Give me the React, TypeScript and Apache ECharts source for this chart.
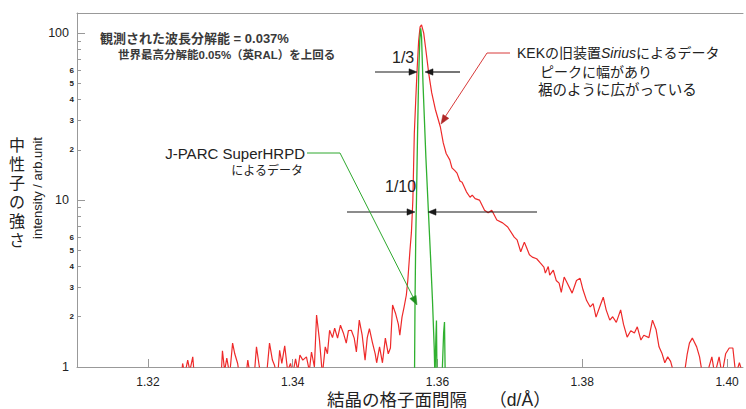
import React, { useEffect, useRef } from "react";
import * as echarts from "echarts";

// ---- data ----
const X_TICKS = [1.32, 1.34, 1.36, 1.38, 1.4];
const Y_MAJOR = [1, 10, 100];
const Y_MINOR_LABELLED = [2, 3, 4, 5, 6, 20, 30, 40, 50, 60];
const Y_MINOR_TICKS = [2, 3, 4, 5, 6, 7, 8, 9, 20, 30, 40, 50, 60, 70, 80, 90];

// KEK Sirius (red)
const SIRIUS_D = [
  1.3102, 1.3244, 1.3248, 1.3251, 1.3255, 1.3258, 1.3262, 1.3266, 1.33, 1.3303,
  1.3306, 1.3309, 1.3313, 1.3317, 1.332, 1.3324, 1.3328, 1.3335, 1.3338, 1.3342,
  1.3347, 1.335, 1.3354, 1.3358, 1.3364, 1.3368, 1.3372, 1.3375, 1.3379, 1.3382,
  1.3385, 1.3389, 1.3393, 1.3397, 1.34, 1.3404, 1.3407, 1.341, 1.3414, 1.3419,
  1.3423, 1.3426, 1.343, 1.3433, 1.3437, 1.3441, 1.3445, 1.3448, 1.3451, 1.3455,
  1.3458, 1.3462, 1.3466, 1.347, 1.3474, 1.3477, 1.3481, 1.3485, 1.3488, 1.3492,
  1.3496, 1.35, 1.3503, 1.3506, 1.351, 1.3514, 1.3516, 1.352, 1.3524, 1.3528,
  1.3532, 1.3535, 1.3538, 1.3542, 1.3546, 1.3548, 1.3551, 1.3554, 1.3557, 1.3559,
  1.3562, 1.3564, 1.3566, 1.3567, 1.3568, 1.357, 1.3572, 1.3574, 1.3576, 1.3578,
  1.3581, 1.3584, 1.3588, 1.3592, 1.3597, 1.3604, 1.3608, 1.3612, 1.3617, 1.362,
  1.3624, 1.3627, 1.3631, 1.3634, 1.364, 1.3645, 1.3648, 1.3652, 1.3658, 1.3665,
  1.367, 1.3675, 1.3682, 1.369, 1.3697, 1.3706, 1.371, 1.3715, 1.372, 1.3723,
  1.3727, 1.3731, 1.3737, 1.3742, 1.3747, 1.3749, 1.3753, 1.3755, 1.376, 1.3764,
  1.3768, 1.3771, 1.3775, 1.3779, 1.3786, 1.3792, 1.3797, 1.3801, 1.3806, 1.3811,
  1.3815, 1.3819, 1.3825, 1.3829, 1.3833, 1.3838, 1.3842, 1.3847, 1.3853, 1.3857,
  1.3862, 1.3867, 1.3872, 1.3876, 1.3881, 1.3885, 1.3892, 1.3897, 1.3902, 1.3906,
  1.391, 1.3914, 1.3918, 1.3922, 1.3927, 1.3932, 1.394, 1.3945, 1.3948, 1.3952,
  1.3958, 1.3962, 1.3966, 1.3972, 1.3979, 1.3983, 1.3989, 1.3993, 1.3998, 1.4003,
  1.4008, 1.4012, 1.4017, 1.4022,
];
const SIRIUS_I = [
  0.7, 0.7, 1.05, 0.9, 1.1, 0.95, 1.15, 0.7, 0.7, 1.25,
  0.95, 1.13, 0.9, 1.39, 1.2, 1.05, 0.8, 0.85, 1.1, 0.85,
  0.9, 1.32, 1.0, 0.85, 0.9, 1.39, 1.1, 1.02, 0.85, 1.26,
  1.05, 1.34, 0.95, 1.05, 0.9, 1.12, 0.95, 1.18, 1.1, 1.15,
  0.95, 1.23, 1.0, 2.05, 1.45, 0.9, 1.32, 1.2, 1.66, 1.5,
  1.71, 1.49, 1.78, 1.6, 1.39, 1.65, 1.66, 1.49, 1.23, 1.91,
  1.55, 1.1, 1.5, 1.7, 1.41, 1.2, 1.06, 1.32, 1.06, 1.49,
  1.2, 1.3, 2.35, 2.1, 1.8, 1.55, 1.99, 2.3, 2.7, 3.3,
  5.0, 6.4, 10, 15.8, 25, 40, 62, 90, 109, 112,
  100, 79, 57, 44, 35, 27.4, 22, 19, 17.4, 15.6,
  15.0, 14.5, 13.0, 12.8, 11.2, 10.4, 10.7, 10.2, 10.0, 8.7,
  8.4, 8.7, 7.6, 7.3, 6.9, 6.0, 5.77, 4.9, 5.6, 5.2,
  4.7, 4.55, 4.45, 4.2, 3.97, 3.65, 4.0, 3.55, 3.8, 3.3,
  3.18, 2.8, 3.46, 3.2, 2.77, 3.3, 3.4, 2.9, 2.5, 2.29,
  2.4, 1.99, 2.35, 2.62, 2.2, 1.91, 2.0, 1.85, 2.2, 1.8,
  1.51, 1.65, 1.6, 1.74, 1.45, 1.55, 1.5, 1.91, 1.67, 1.32,
  1.21, 1.06, 1.15, 1.08, 0.9, 0.95, 0.85, 1.2, 1.39, 1.49,
  1.32, 1.15, 0.9, 0.9, 1.15, 0.9, 1.15, 0.9, 1.2, 1.3,
  1.3, 0.9, 1.06, 0.9,
];

// J-PARC SuperHRPD (green)
const SHRPD_D = [
  1.354, 1.3567, 1.35683, 1.3569, 1.357, 1.3571, 1.35725, 1.3574, 1.35755, 1.35768,
  1.3578, 1.358, 1.3584, 1.35876, 1.35905, 1.35931, 1.35955, 1.35965, 1.35978, 1.35986,
  1.35994, 1.3601, 1.3606, 1.36085, 1.36097, 1.36108, 1.364,
];
const SHRPD_I = [
  0.5, 0.6, 0.9, 2.5, 6, 10, 25, 55, 90, 107,
  95, 50, 18, 8.3, 4.5, 2.5, 1.3, 0.85, 1.5, 1.9,
  0.8, 0.75, 0.8, 1.6, 1.86, 0.8, 0.5,
];

const X_MIN = 1.31021;
const X_MAX = 1.4022;
const Y_MIN = 1;
const Y_MAX = 132;

const FONT = "'Liberation Sans', 'Noto Sans CJK JP', sans-serif";

function arrowHead(tip: number[], from: number[], color: string, len = 8, half = 3.2) {
  const dx = tip[0] - from[0];
  const dy = tip[1] - from[1];
  const l = Math.sqrt(dx * dx + dy * dy);
  const ux = dx / l;
  const uy = dy / l;
  const bx = tip[0] - ux * len;
  const by = tip[1] - uy * len;
  const px = -uy * half;
  const py = ux * half;
  return {
    type: "polygon",
    shape: { points: [tip, [bx + px, by + py], [bx - px, by - py]] },
    style: { fill: color, stroke: color, lineWidth: 0.5 },
    z: 10,
  };
}

function seg(a: number[], b: number[], color: string, w = 1.2) {
  return {
    type: "line",
    shape: { x1: a[0], y1: a[1], x2: b[0], y2: b[1] },
    style: { stroke: color, lineWidth: w },
    z: 10,
  };
}

function txt(text: string, x: number, y: number, size: number, align = "left", extra: any = {}) {
  return {
    type: "text",
    x,
    y,
    z: 10,
    style: {
      text,
      fontSize: size,
      fontFamily: FONT,
      fill: "#222",
      align,
      verticalAlign: "middle",
      ...extra,
    },
  };
}

export default function App() {
  const ref = useRef<HTMLDivElement>(null);
  useEffect(() => {
    if (!ref.current) return;
    const chart = echarts.init(ref.current, undefined, { renderer: "svg" });
    const black = "#1a1a1a";
    const redA = "#d83a3a";
    const greenA = "#2ea82e";
    const graphic: any[] = [
      txt("観測された波長分解能 = 0.037%", 100, 38, 13, "left", { fontWeight: "bold", fill: "#3a3a3a" }),
      txt("世界最高分解能0.05%（英RAL）を上回る", 118, 55, 11.5, "left", { fontWeight: "bold", fill: "#3a3a3a" }),
      txt("1/3", 392, 57, 16),
      txt("1/10", 385, 186, 16),
      // 1/3 arrows
      seg([375, 72], [412, 72], black),
      arrowHead([417, 72], [375, 72], black),
      seg([460, 72], [430, 72], black),
      arrowHead([425, 72], [460, 72], black),
      // 1/10 arrows
      seg([347, 212], [410, 212], black),
      arrowHead([415, 212], [347, 212], black),
      seg([537, 212], [433, 212], black),
      arrowHead([428, 212], [537, 212], black),
      // KEK annotation
      {
        type: "text",
        x: 517,
        y: 53,
        z: 10,
        style: {
          text: "{a|KEKの旧装置}{b|Sirius}{a|によるデータ}",
          verticalAlign: "middle",
          align: "left",
          rich: {
            a: { fontSize: 14, fontFamily: FONT, fill: "#222", color: "#222" },
            b: { fontSize: 14, fontFamily: FONT, fontStyle: "italic", fill: "#222", color: "#222" },
          },
        },
      },
      txt("ピークに幅があり", 540, 72, 14),
      txt("裾のように広がっている", 538, 90, 14.5),
      {
        type: "polyline",
        shape: { points: [[510, 53], [487, 53], [445, 117]] },
        style: { stroke: redA, lineWidth: 1, fill: "none" },
        z: 10,
      },
      arrowHead([441, 124], [487, 53], "#b02828", 9, 3.5),
      // J-PARC annotation
      txt("J-PARC SuperHRPD", 305, 153, 15, "right"),
      txt("によるデータ", 303, 171, 12, "right"),
      {
        type: "polyline",
        shape: { points: [[307, 153], [340, 153], [413, 297]] },
        style: { stroke: greenA, lineWidth: 1, fill: "none" },
        z: 10,
      },
      arrowHead([417, 305], [340, 153], "#1f8f1f", 9, 3.5),
      // y-axis titles
      txt("中\n性\n子\nの\n強\nさ", 17, 193, 16, "center", { lineHeight: 19 }),
      {
        type: "text",
        x: 37,
        y: 188,
        rotation: Math.PI / 2,
        z: 10,
        style: {
          text: "intensity / arb.unit",
          fontSize: 13,
          fontFamily: FONT,
          fill: "#222",
          align: "center",
          verticalAlign: "middle",
        },
      },
      // x-axis title
      txt("結晶の格子面間隔　 （d/Å）", 327, 400, 17.5),
    ];

    chart.setOption({
      animation: false,
      backgroundColor: "#fff",
      grid: { left: 77, right: 3, top: 13, bottom: 42 },
      xAxis: [
        {
          type: "value",
          min: X_MIN,
          max: X_MAX,
          position: "bottom",
          axisLine: { show: true, lineStyle: { color: "#999", width: 1 } },
          axisTick: { show: true, inside: true, length: 8, customValues: X_TICKS, lineStyle: { color: "#999" } },
          axisLabel: {
            customValues: X_TICKS,
            formatter: (v: number) => v.toFixed(2),
            color: "#222",
            fontSize: 12,
            fontFamily: FONT,
            margin: 9,
          },
          splitLine: { show: false },
        },
        {
          type: "value",
          min: X_MIN,
          max: X_MAX,
          position: "top",
          axisLine: { show: true, lineStyle: { color: "#999", width: 1 } },
          axisTick: { show: false },
          axisLabel: { show: false },
          splitLine: { show: false },
        },
      ],
      yAxis: [
        {
          type: "log",
          logBase: 10,
          min: Y_MIN,
          max: Y_MAX,
          position: "left",
          axisLine: { show: true, lineStyle: { color: "#999", width: 1 } },
          axisTick: { show: true, inside: true, length: 8, customValues: Y_MAJOR, lineStyle: { color: "#999" } },
          axisLabel: {
            customValues: Y_MAJOR,
            formatter: (v: number) => String(Math.round(v)),
            color: "#222",
            fontSize: 12.5,
            fontFamily: FONT,
            margin: 8,
          },
          splitLine: { show: false },
        },
        {
          type: "log",
          logBase: 10,
          min: Y_MIN,
          max: Y_MAX,
          position: "left",
          axisLine: { show: false },
          axisTick: { show: true, inside: true, length: 4, customValues: Y_MINOR_TICKS, lineStyle: { color: "#999" } },
          axisLabel: {
            customValues: Y_MINOR_LABELLED,
            formatter: (v: number) => String(Math.round(v >= 10 ? v / 10 : v)),
            color: "#222",
            fontSize: 8,
            fontWeight: "bold",
            fontFamily: FONT,
            margin: 3,
          },
          splitLine: { show: false },
        },
      ],
      series: [
        {
          type: "line",
          name: "KEK Sirius",
          xAxisIndex: 0,
          yAxisIndex: 0,
          data: SIRIUS_D.map((d, i) => [d, SIRIUS_I[i]]),
          symbol: "none",
          showSymbol: false,
          clip: true,
          lineStyle: { color: "#ee2a2a", width: 1.2 },
          z: 2,
        },
        {
          type: "line",
          name: "J-PARC SuperHRPD",
          xAxisIndex: 0,
          yAxisIndex: 0,
          data: SHRPD_D.map((d, i) => [d, SHRPD_I[i]]),
          symbol: "none",
          showSymbol: false,
          clip: true,
          lineStyle: { color: "#2fb02f", width: 1.3 },
          z: 3,
        },
      ],
      graphic,
    });
    return () => chart.dispose();
  }, []);
  return (
    <div
      ref={ref}
      style={{ position: "fixed", left: 0, top: 0, width: 746, height: 409, background: "#fff" }}
    />
  );
}
